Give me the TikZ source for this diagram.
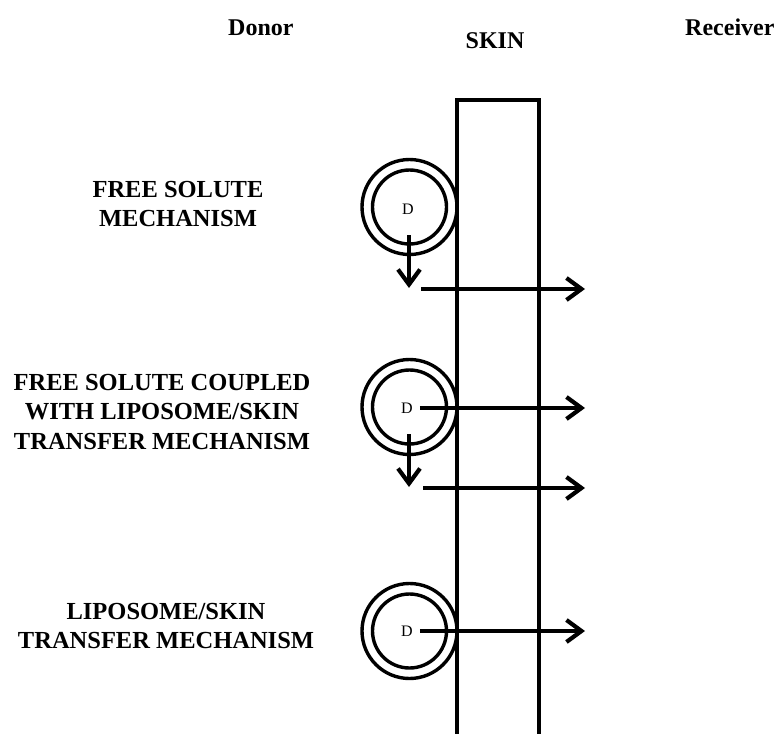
\documentclass[tikz,border=0pt]{standalone}
\usepackage{fontspec}
\setmainfont{Liberation Serif}
\usetikzlibrary{arrows.meta}
\begin{document}
\begin{tikzpicture}[x=1pt,y=-1pt,
  lbl/.style={font=\fontsize{24.5}{29.5}\selectfont\bfseries, align=center, inner sep=0pt, anchor=north},
  ttl/.style={font=\fontsize{24}{28}\selectfont\bfseries, inner sep=0pt},
  outerc/.style={circle, draw, line width=3.4pt, minimum size=95pt, inner sep=0pt},
  innerc/.style={circle, draw, line width=3.4pt, minimum size=74pt, inner sep=0pt},
  dlab/.style={font=\fontsize{16}{16}\selectfont, inner sep=0pt},
  flow/.style={line width=3.8pt, -{Straight Barb[length=15pt,width=22pt,line width=4.2pt]}},
  skinline/.style={line width=3.4pt}]
\useasboundingbox (0,0) rectangle (778,733);
\fill[white] (0,0) rectangle (778,733);

% titles
\node[ttl, anchor=west] (donor) at (228,28) {Donor};
\node[ttl] (skin) at (495,41) {SKIN};
\node[ttl, anchor=west] (receiver) at (685,27) {Receiver};

% skin layer
\coordinate (skinBL) at (457,734);
\coordinate (skinTL) at (457,100);
\coordinate (skinTR) at (539,100);
\coordinate (skinBR) at (539,734);
\draw[skinline] (skinBL) -- (skinTL) -- (skinTR) -- (skinBR);

% labels
\node[lbl] (lab1) at (178,181) {FREE SOLUTE\\MECHANISM};
\node[lbl] (lab2) at (162,374) {FREE SOLUTE COUPLED\\WITH LIPOSOME/SKIN\\TRANSFER MECHANISM};
\node[lbl] (lab3) at (166,603) {LIPOSOME/SKIN\\TRANSFER MECHANISM};

% liposome 1
\node[outerc] (o1) at (409.5,207) {};
\node[innerc] (i1) at (409.5,207) {};
\node[dlab] (d1) at (408,209) {D};
\coordinate (v1s) at (409,235);
\coordinate (v1e) at (409,288);
\coordinate (h1s) at (421,289);
\coordinate (h1e) at (585,289);
\draw[flow] (v1s) -- (v1e);
\draw[flow] (h1s) -- (h1e);

% liposome 2
\node[outerc] (o2) at (409.5,407) {};
\node[innerc] (i2) at (409.5,407) {};
\node[dlab] (d2) at (407,408) {D};
\coordinate (h2e) at (585,408);
\draw[flow] ([xshift=7pt]d2.east) -- (h2e);
\coordinate (v2s) at (409,434);
\coordinate (v2e) at (409,487);
\coordinate (h3s) at (423,488);
\coordinate (h3e) at (585,488);
\draw[flow] (v2s) -- (v2e);
\draw[flow] (h3s) -- (h3e);

% liposome 3
\node[outerc] (o3) at (409.5,631) {};
\node[innerc] (i3) at (409.5,631) {};
\node[dlab] (d3) at (407,631) {D};
\coordinate (h4e) at (585,631);
\draw[flow] ([xshift=7pt]d3.east) -- (h4e);
\end{tikzpicture}
\end{document}
